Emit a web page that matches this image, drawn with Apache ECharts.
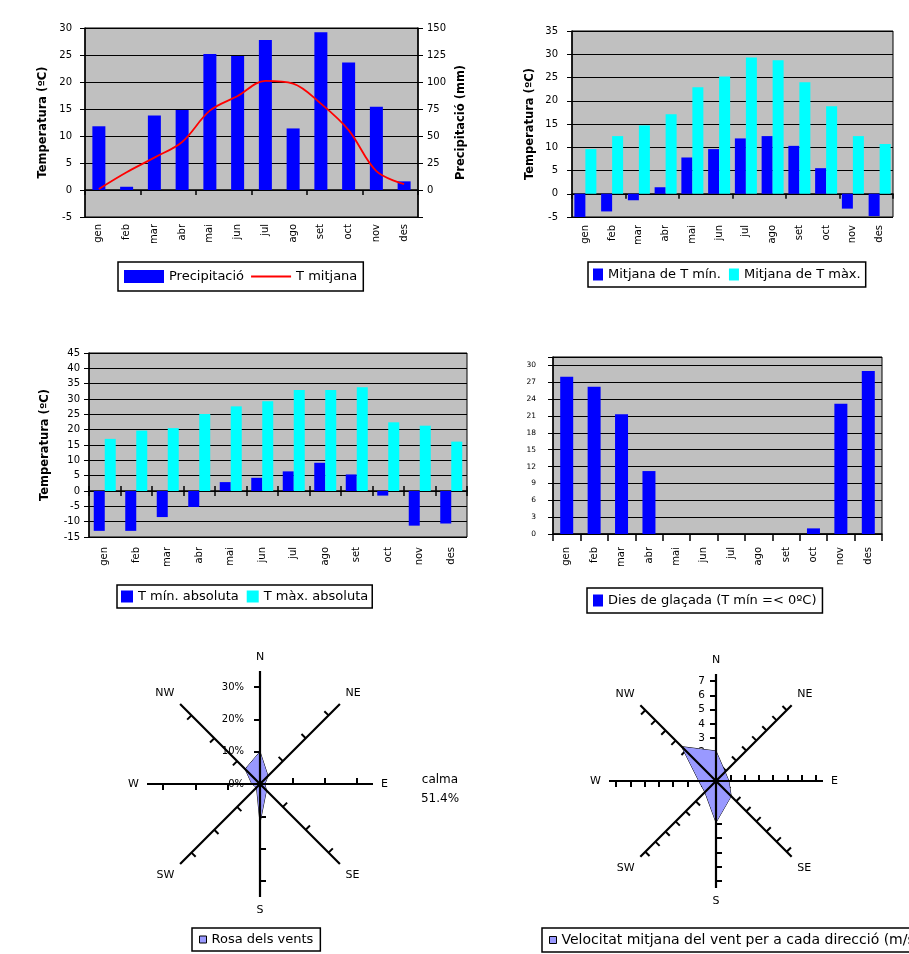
<!DOCTYPE html>
<html><head><meta charset="utf-8">
<script src="https://cdn.jsdelivr.net/npm/echarts@6/dist/echarts.min.js"></script>
<style>html,body{margin:0;padding:0;background:#fff}#c{width:909px;height:954px}</style>
</head><body><div id="c"></div>
<script>
// ---- data ----
const months = ['gen','feb','mar','abr','mai','jun','jul','ago','set','oct','nov','des'];
const precipitacio = [59, 3, 69, 74, 126, 124, 139, 57, 146, 118, 77, 8];
const tMitjana = [0.2, 3.3, 6.0, 8.9, 14.7, 17.4, 20.2, 19.7, 16.0, 11.1, 3.5, 1.1];
const tMinMitjana = [-5.0, -3.8, -1.4, 1.4, 7.8, 9.6, 11.9, 12.4, 10.3, 5.5, -3.2, -4.8];
const tMaxMitjana = [9.6, 12.4, 14.7, 17.1, 22.9, 25.2, 29.3, 28.7, 24.0, 18.8, 12.4, 10.7];
const tMinAbsoluta = [-13.0, -13.0, -8.5, -5.2, 2.9, 4.3, 6.4, 9.2, 5.4, -1.5, -11.3, -10.6];
const tMaxAbsoluta = [17.0, 19.7, 20.5, 25.1, 27.6, 29.3, 32.9, 32.9, 33.8, 22.4, 21.3, 16.1];
const diesGlacada = [28.0, 26.2, 21.3, 11.2, 0, 0, 0, 0, 0, 1.0, 23.2, 29.0];
const directions = ['N','NE','E','SE','S','SW','W','NW'];
const rosaVents = [10, 3.5, 1.5, 2.8, 12, 1.5, 2.5, 6.5];      // %
const velocitatVent = [2.1, 0.9, 0.9, 1.5, 2.9, 1.1, 1.2, 3.4]; // m/s
const calmaText = '51.4%';

// ---- helpers ----
const FONT = 'DejaVu Sans';
const BLACK = '#000';
const BLUE = '#0000ff', CYAN = '#00ffff', RED = '#ff0000', GRAY = '#c0c0c0', LAV = '#9999ff';
const tickFont = {fontFamily: FONT, fontSize: 10, color: BLACK};
const titleFont = {fontFamily: FONT, fontSize: 11.5, fontWeight: 'bold', color: BLACK};
const legendFont = {fontFamily: FONT, fontSize: 13, color: BLACK};

function gridBox(l, t, w, h) {
  return {left: l, top: t, width: w, height: h, show: true, backgroundColor: GRAY,
          borderColor: BLACK, borderWidth: 1, containLabel: false, outerBoundsMode: 'none'};
}
function zeroAxis(gridIndex, yIdx, inside) {
  return {type: 'category', data: months, gridIndex: gridIndex, position: 'bottom',
    axisLine: {show: !inside, onZero: true, onZeroAxisIndex: yIdx, lineStyle: {color: BLACK, width: 1.5}},
    axisTick: {show: true, inside: !!inside, length: 5, lineStyle: {color: BLACK, width: 1.5}},
    axisLabel: {show: false}, splitLine: {show: false}};
}
function labelAxis(gridIndex, margin) {
  return {type: 'category', data: months, gridIndex: gridIndex, position: 'bottom',
    axisLine: {show: false, onZero: false}, axisTick: {show: false},
    axisLabel: Object.assign({show: true, rotate: 90, interval: 0, margin: margin}, tickFont),
    splitLine: {show: false}};
}
function valAxis(gridIndex, min, max, interval, margin, name, nameGap, extra) {
  return Object.assign({type: 'value', gridIndex: gridIndex, min: min, max: max, interval: interval,
    axisLine: {show: true, onZero: false, lineStyle: {color: BLACK, width: 1.5}},
    axisTick: {show: true, length: 5, lineStyle: {color: BLACK, width: 1}},
    axisLabel: Object.assign({margin: margin}, tickFont),
    splitLine: {show: true, lineStyle: {color: BLACK, width: 1}},
    name: name, nameLocation: 'middle', nameGap: nameGap, nameTextStyle: titleFont}, extra || {});
}
// radar indicators go counter-clockwise in ECharts: reorder N, NW, W, SW, S, SE, E, NE
const ccwOrder = [0, 7, 6, 5, 4, 3, 2, 1];
function radarIndicators(max) {
  return ccwOrder.map((i, k) => ({name: directions[i], min: 0, max: max,
    axisLabel: {show: k === 0}}));
}
function ccw(arr) { return ccwOrder.map(i => arr[i]); }

const legendBase = {orient: 'horizontal', borderColor: BLACK, borderWidth: 1.5, backgroundColor: '#fff',
  textStyle: legendFont, selectedMode: false, borderRadius: 0};

const option = {
  animation: false,
  textStyle: {fontFamily: FONT},
  grid: [
    gridBox(85, 28, 333, 189),
    gridBox(572, 31, 321, 186),
    gridBox(89, 353, 378, 184),
    gridBox(553, 357, 329, 177)
  ],
  xAxis: [
    zeroAxis(0, 0), labelAxis(0, 7),
    zeroAxis(1, 2), labelAxis(1, 8),
    zeroAxis(2, 3), zeroAxis(2, 3, true), labelAxis(2, 10),
    Object.assign(zeroAxis(3, 4), {axisTick: {show: true, length: 7, lineStyle: {color: BLACK, width: 1.5}},
      axisLabel: Object.assign({show: true, rotate: 90, interval: 0, margin: 13}, tickFont)})
  ],
  yAxis: [
    valAxis(0, -5, 30, 5, 13, 'Temperatura (ºC)', 36),
    valAxis(0, -25, 150, 25, 9, 'Precipitació (mm)', 37, {position: 'right', splitLine: {show: false},
      axisLabel: Object.assign({margin: 9, formatter: v => (v < 0 ? '' : String(v))}, tickFont)}),
    valAxis(1, -5, 35, 5, 14, 'Temperatura (ºC)', 36),
    valAxis(2, -15, 45, 5, 9, 'Temperatura (ºC)', 38),
    valAxis(3, 0, 31.5, 3, 17, '', 0, {axisLabel: {margin: 17, fontFamily: FONT, fontSize: 7.5, color: BLACK,
      formatter: v => (v % 3 === 0 ? String(v) : '')}})
  ],
  radar: [
    {center: [260, 784], radius: 97, startAngle: 90, shape: 'polygon', splitNumber: 3,
     indicator: radarIndicators(30), axisName: {show: false},
     splitLine: {show: false}, splitArea: {show: false}, axisLine: {show: false},
     axisTick: {show: true, length: 6, lineStyle: {color: BLACK, width: 2}},
     axisLabel: {show: true, margin: 16, formatter: '{value}%', fontFamily: FONT, fontSize: 10, color: BLACK}},
    {center: [716, 781], radius: 100, startAngle: 90, shape: 'polygon', splitNumber: 7,
     indicator: radarIndicators(7), axisName: {show: false},
     splitLine: {show: false}, splitArea: {show: false}, axisLine: {show: false},
     axisTick: {show: true, length: 6, lineStyle: {color: BLACK, width: 2}},
     axisLabel: {show: true, margin: 11, fontFamily: FONT, fontSize: 10.5, color: BLACK}}
  ],
  polar: [
    {center: [260, 784], radius: 113},
    {center: [716, 781], radius: 107}
  ],
  angleAxis: [0, 1].map(p => ({polarIndex: p, type: 'category', data: directions, startAngle: 90,
    clockwise: true, boundaryGap: false, z: 5,
    axisLine: {show: false}, axisTick: {show: false},
    axisLabel: {show: true, margin: 8, fontFamily: FONT, fontSize: 11, color: BLACK},
    splitLine: {show: true, lineStyle: {color: BLACK, width: 2.2}}})),
  radiusAxis: [
    {polarIndex: 0, type: 'value', min: 0, max: 35, axisLine: {show: false}, axisTick: {show: false},
     axisLabel: {show: false}, splitLine: {show: false}},
    {polarIndex: 1, type: 'value', min: 0, max: 7.5, axisLine: {show: false}, axisTick: {show: false},
     axisLabel: {show: false}, splitLine: {show: false}}
  ],
  legend: [
    Object.assign({}, legendBase, {left: 118, top: 262, padding: [8, 6], itemGap: 6, itemWidth: 40, itemHeight: 13,
      data: [{name: 'Precipitació', icon: 'rect'},
             {name: 'T mitjana', itemStyle: {color: 'rgba(0,0,0,0)', borderWidth: 0, opacity: 0}}]}),
    Object.assign({}, legendBase, {left: 588, top: 262, padding: [6, 5], itemGap: 8, itemWidth: 10, itemHeight: 12,
      data: [{name: 'Mitjana de T mín.', icon: 'rect'}, {name: 'Mitjana de T màx.', icon: 'rect'}]}),
    Object.assign({}, legendBase, {left: 117, top: 585, padding: [5, 4], itemGap: 8, itemWidth: 12, itemHeight: 12,
      data: [{name: 'T mín. absoluta', icon: 'rect'}, {name: 'T màx. absoluta', icon: 'rect'}]}),
    Object.assign({}, legendBase, {left: 587, top: 588, padding: [6, 6], itemGap: 6, itemWidth: 10, itemHeight: 12,
      data: [{name: 'Dies de glaçada (T mín =< 0ºC)', icon: 'rect'}]}),
    Object.assign({}, legendBase, {left: 192, top: 928, padding: [5, 7], itemWidth: 7, itemHeight: 7,
      itemStyle: {borderColor: BLACK, borderWidth: 1},
      data: [{name: 'Rosa dels vents', icon: 'rect'}]}),
    Object.assign({}, legendBase, {left: 542, top: 928, padding: [5, 7], itemWidth: 7, itemHeight: 7,
      itemStyle: {borderColor: BLACK, borderWidth: 1},
      textStyle: Object.assign({}, legendFont, {fontSize: 14}),
      data: [{name: 'Velocitat mitjana del vent per a cada direcció (m/s)', icon: 'rect'}]})
  ],
  graphic: [
    {type: 'text', x: 440, y: 770, z: 10,
     style: {text: 'calma\n' + calmaText, align: 'center', textAlign: 'center', fill: BLACK,
             font: '12px "DejaVu Sans"', lineHeight: 19}}
  ],
  series: [
    {name: 'Precipitació', type: 'bar', xAxisIndex: 0, yAxisIndex: 1, data: precipitacio, barWidth: 13,
     itemStyle: {color: BLUE}},
    {name: 'T mitjana', type: 'line', xAxisIndex: 0, yAxisIndex: 0, data: tMitjana, smooth: 0.35,
     symbol: 'none', lineStyle: {color: RED, width: 1.8}, itemStyle: {color: RED}, z: 4},
    {name: 'Mitjana de T mín.', type: 'bar', xAxisIndex: 2, yAxisIndex: 2, data: tMinMitjana, barWidth: 11,
     barGap: '0%', itemStyle: {color: BLUE}},
    {name: 'Mitjana de T màx.', type: 'bar', xAxisIndex: 2, yAxisIndex: 2, data: tMaxMitjana, barWidth: 11,
     barGap: '0%', itemStyle: {color: CYAN}},
    {name: 'T mín. absoluta', type: 'bar', xAxisIndex: 4, yAxisIndex: 3, data: tMinAbsoluta, barWidth: 11,
     barGap: '0%', itemStyle: {color: BLUE}},
    {name: 'T màx. absoluta', type: 'bar', xAxisIndex: 4, yAxisIndex: 3, data: tMaxAbsoluta, barWidth: 11,
     barGap: '0%', itemStyle: {color: CYAN}},
    {name: 'Dies de glaçada (T mín =< 0ºC)', type: 'bar', xAxisIndex: 7, yAxisIndex: 4, data: diesGlacada,
     barWidth: 13, itemStyle: {color: BLUE}},
    {name: 'Rosa dels vents', type: 'radar', radarIndex: 0, symbol: 'none',
     data: [{name: 'Rosa dels vents', value: ccw(rosaVents)}],
     itemStyle: {color: LAV}, lineStyle: {color: BLACK, width: 1}, areaStyle: {color: LAV, opacity: 1}},
    {name: 'Velocitat mitjana del vent per a cada direcció (m/s)', type: 'radar', radarIndex: 1, symbol: 'none',
     data: [{name: 'Velocitat mitjana del vent per a cada direcció (m/s)', value: ccw(velocitatVent)}],
     itemStyle: {color: LAV}, lineStyle: {color: BLACK, width: 1}, areaStyle: {color: LAV, opacity: 1}}
  ]
};
const chart = echarts.init(document.getElementById('c'), null, {renderer: 'canvas'});
chart.setOption(option);
</script>
</body></html>
